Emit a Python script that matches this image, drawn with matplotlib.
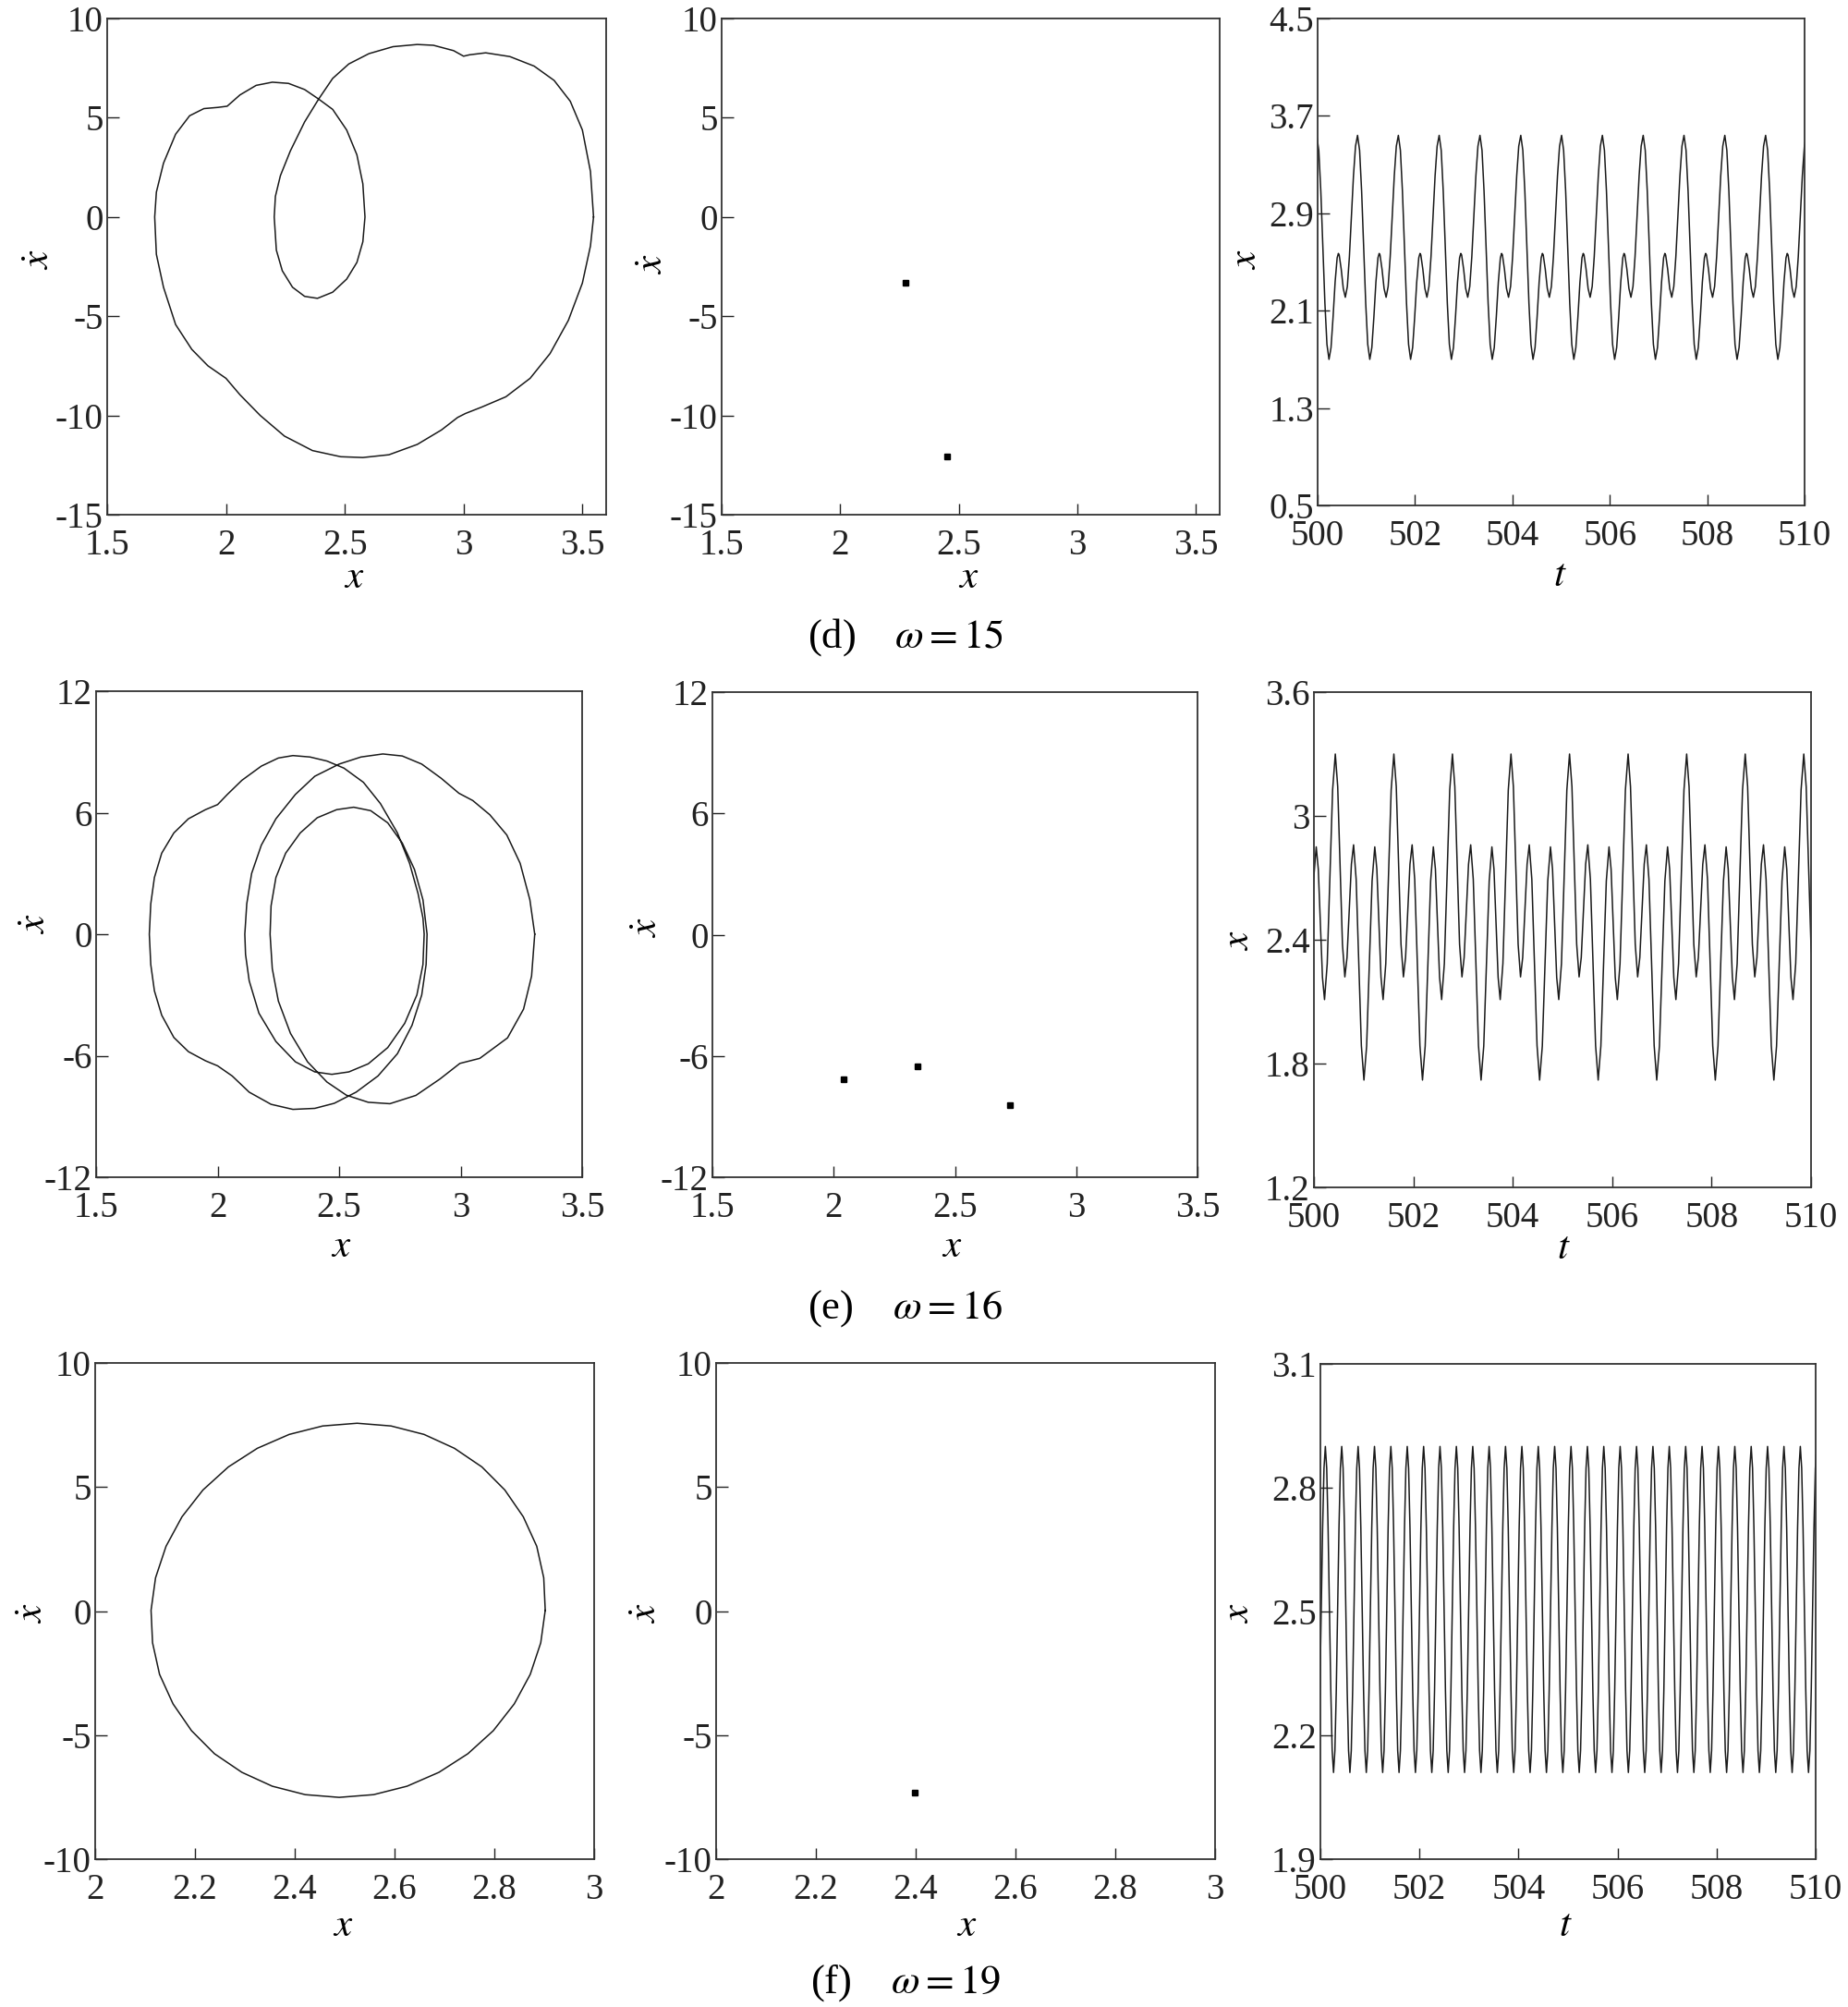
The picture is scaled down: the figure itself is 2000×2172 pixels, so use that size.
import numpy as np
import matplotlib
matplotlib.use("Agg")
import matplotlib.pyplot as plt
from matplotlib.ticker import FixedLocator, FuncFormatter

plt.rcParams['font.family'] = ['Liberation Serif', 'DejaVu Serif']
plt.rcParams['mathtext.fontset'] = 'stix'
plt.rcParams['axes.unicode_minus'] = False

# ------------------------------------------------------------------ data
# (d) omega = 15 : phase portrait (x, xdot) read along the closed orbit
d_orbit_x = [3.547, 3.534, 3.500, 3.449, 3.381, 3.297, 3.195, 3.093, 3.025, 3.000,
             2.958, 2.873, 2.805, 2.703, 2.602, 2.517, 2.449, 2.390, 2.331, 2.271,
             2.229, 2.208, 2.203, 2.212, 2.237, 2.280, 2.331, 2.385, 2.449, 2.508,
             2.551, 2.576, 2.585, 2.576, 2.551, 2.508, 2.449, 2.390, 2.331, 2.263,
             2.195, 2.127, 2.059, 2.005, 1.966, 1.907, 1.847, 1.788, 1.737, 1.707,
             1.700, 1.707, 1.737, 1.788, 1.856, 1.924, 2.000, 2.059, 2.144, 2.246,
             2.364, 2.483, 2.576, 2.686, 2.805, 2.907, 2.975, 3.008, 3.076, 3.178,
             3.280, 3.364, 3.441, 3.500, 3.534, 3.547]
d_orbit_v = [0.00, 2.29, 4.38, 5.83, 6.88, 7.60, 8.08, 8.27, 8.17, 8.10,
             8.38, 8.65, 8.69, 8.58, 8.23, 7.71, 6.98, 5.94, 4.79, 3.33,
             2.08, 1.04, 0.00, -1.67, -2.71, -3.54, -4.00, -4.10, -3.79, -3.13,
             -2.29, -1.25, 0.00, 1.67, 3.13, 4.38, 5.42, 5.94, 6.42, 6.73,
             6.79, 6.63, 6.15, 5.58, 5.52, 5.46, 5.10, 4.17, 2.71, 1.25,
             0.00, -1.88, -3.54, -5.42, -6.67, -7.50, -8.13, -8.96, -10.00, -11.04,
             -11.77, -12.08, -12.12, -11.98, -11.46, -10.73, -10.10, -9.90, -9.58, -9.06,
             -8.13, -6.88, -5.21, -3.33, -1.46, 0.00]
d_poincare_x = [2.275, 2.451]
d_poincare_v = [-3.32, -12.07]
# one period of x(t), phase measured from the large peak
d_phase = [0.00, 0.05, 0.10, 0.15, 0.20, 0.25, 0.30, 0.35, 0.40, 0.45, 0.50,
           0.53, 0.55, 0.60, 0.65, 0.70, 0.75, 0.80, 0.85, 0.90, 0.95]
d_wave = [3.540, 3.417, 3.080, 2.620, 2.160, 1.823, 1.700, 1.797, 2.047, 2.335, 2.534,
          2.570, 2.558, 2.440, 2.282, 2.210, 2.299, 2.543, 2.875, 3.208, 3.451]
d_period = 0.838
d_first_peak = 500.82

# (e) omega = 16
e_orbit_x = [3.305, 3.292, 3.259, 3.193, 3.079, 2.997, 2.915, 2.816, 2.709, 2.620,
             2.530, 2.450, 2.370, 2.300, 2.250, 2.225, 2.216,
             2.220, 2.240, 2.280, 2.340, 2.410, 2.490, 2.560, 2.630, 2.700, 2.760,
             2.810, 2.845, 2.862,
             2.858, 2.840, 2.800, 2.740, 2.660, 2.570, 2.480, 2.400, 2.310, 2.220,
             2.130, 2.060, 2.000, 1.950, 1.880, 1.820, 1.770, 1.740, 1.725, 1.719,
             1.725, 1.740, 1.770, 1.820, 1.880, 1.950, 2.000, 2.040, 2.100, 2.180,
             2.250, 2.310, 2.380, 2.450, 2.520, 2.600, 2.670, 2.740, 2.790, 2.825,
             2.845, 2.850,
             2.845, 2.820, 2.770, 2.700, 2.620, 2.540, 2.470, 2.400, 2.320, 2.240,
             2.170, 2.130, 2.115, 2.112,
             2.120, 2.140, 2.180, 2.240, 2.320, 2.400, 2.500, 2.590, 2.680, 2.760,
             2.840, 2.920, 2.993, 3.050, 3.120, 3.190, 3.245, 3.285, 3.305]
e_orbit_v = [0.00, -2.07, -3.70, -5.12, -6.13, -6.38, -7.15, -7.96, -8.37, -8.30,
             -7.95, -7.30, -6.30, -4.90, -3.30, -1.70, 0.00,
             1.40, 2.80, 4.00, 5.00, 5.75, 6.15, 6.27, 6.10, 5.50, 4.50,
             3.20, 1.70, 0.00,
             -1.50, -3.00, -4.50, -5.90, -7.00, -7.80, -8.35, -8.60, -8.65, -8.40,
             -7.80, -7.00, -6.50, -6.25, -5.80, -5.10, -4.00, -2.80, -1.50, 0.00,
             1.50, 2.80, 4.00, 5.00, 5.70, 6.15, 6.40, 6.90, 7.60, 8.30,
             8.70, 8.82, 8.75, 8.55, 8.20, 7.50, 6.45, 5.00, 3.50, 2.00,
             0.80, 0.00,
             -1.50, -3.00, -4.40, -5.60, -6.40, -6.80, -6.92, -6.80, -6.30, -5.30,
             -3.90, -2.30, -1.00, 0.00,
             1.50, 3.00, 4.40, 5.70, 6.90, 7.80, 8.40, 8.75, 8.90, 8.80,
             8.40, 7.70, 6.96, 6.60, 5.90, 4.90, 3.50, 1.70, 0.00]
e_poincare_x = [2.041, 2.344, 2.726]
e_poincare_v = [-7.16, -6.51, -8.42]
e_phase = [0.000, 0.041, 0.0815, 0.122, 0.163, 0.200, 0.2375, 0.275, 0.312, 0.356,
           0.4005, 0.445, 0.489, 0.535, 0.5815, 0.628, 0.674, 0.7095, 0.745, 0.7805,
           0.816, 0.862, 0.908, 0.954]
e_wave = [3.300, 3.142, 2.760, 2.378, 2.220, 2.314, 2.540, 2.766, 2.860, 2.693,
          2.290, 1.887, 1.720, 1.885, 2.285, 2.685, 2.850, 2.742, 2.480, 2.218,
          2.110, 2.284, 2.705, 3.126]
e_period = 1.178
e_first_peak = 500.43

# (f) omega = 19
f_orbit_x = [2.902, 2.899, 2.885, 2.858, 2.821, 2.775, 2.720, 2.659, 2.593, 2.525,
             2.456, 2.389, 2.325, 2.267, 2.216, 2.174, 2.142, 2.121, 2.112, 2.115,
             2.129, 2.156, 2.193, 2.239, 2.294, 2.355, 2.421, 2.489, 2.558, 2.625,
             2.689, 2.747, 2.798, 2.840, 2.872, 2.893, 2.902]
f_orbit_v = [0.03, 1.34, 2.61, 3.80, 4.88, 5.81, 6.56, 7.12, 7.46, 7.57,
             7.46, 7.12, 6.56, 5.81, 4.88, 3.80, 2.61, 1.34, 0.03, -1.28,
             -2.55, -3.74, -4.82, -5.75, -6.50, -7.06, -7.40, -7.51, -7.40, -7.06,
             -6.50, -5.75, -4.82, -3.74, -2.55, -1.28, 0.03]
f_poincare_x = [2.398]
f_poincare_v = [-7.33]
f_phase = [0.0, 0.0833, 0.1667, 0.25, 0.3333, 0.4167, 0.5, 0.5833, 0.6667, 0.75,
           0.8333, 0.9167]
f_wave = [2.900, 2.847, 2.703, 2.505, 2.308, 2.163, 2.110, 2.163, 2.308, 2.505,
          2.703, 2.847]
f_period = 0.3307
f_first_peak = 500.10

# axis ticks
d_xticks = [1.5, 2, 2.5, 3, 3.5]
d_vticks = [-15, -10, -5, 0, 5, 10]
d_xtticks = [0.5, 1.3, 2.1, 2.9, 3.7, 4.5]
e_xticks = [1.5, 2, 2.5, 3, 3.5]
e_vticks = [-12, -6, 0, 6, 12]
e_xtticks = [1.2, 1.8, 2.4, 3, 3.6]
f_xticks = [2, 2.2, 2.4, 2.6, 2.8, 3]
f_vticks = [-10, -5, 0, 5, 10]
f_xtticks = [1.9, 2.2, 2.5, 2.8, 3.1]
t_ticks = [500, 502, 504, 506, 508, 510]
captions = ["(d)", "(e)", "(f)"]
omegas = [15, 16, 19]

# ------------------------------------------------------------------ layout
W, H = 2000, 2172
fig = plt.figure(figsize=(W / 100, H / 100), dpi=100)

def add_ax(l, r, t, b):
    return fig.add_axes([l / W, 1 - b / H, (r - l) / W, (b - t) / H])

TICK_FS = 28
LAB_FS = 31
LINE = '#1a1a1a'

def style(ax, xlim, xt, ylim, yt, xlabel, ylabel, xlab_px, ylab_px, box):
    l, r, t, b = box
    ax.set_xlim(*xlim)
    ax.set_ylim(*ylim)
    ax.xaxis.set_major_locator(FixedLocator(xt))
    ax.yaxis.set_major_locator(FixedLocator(yt))
    fmt = FuncFormatter(lambda v, p: f"{v:g}")
    ax.xaxis.set_major_formatter(fmt)
    ax.yaxis.set_major_formatter(fmt)
    ax.tick_params(direction='in', length=9, width=1.0, labelsize=TICK_FS,
                   top=False, right=False, colors='#222222')
    ax.tick_params(axis='x', pad=11)
    ax.tick_params(axis='y', pad=3)
    for s in ax.spines.values():
        s.set_linewidth(1.3)
        s.set_color('#333333')
    ax.set_xlabel(xlabel, fontsize=LAB_FS, va='center', ha='center')
    ax.set_ylabel(ylabel, fontsize=LAB_FS, va='center', ha='center')
    ax.xaxis.set_label_coords((xlab_px[0] - l) / (r - l), (b - xlab_px[1]) / (b - t))
    ax.yaxis.set_label_coords((ylab_px[0] - l) / (r - l), (b - ylab_px[1]) / (b - t))

def periodic_series(phase, wave, period, first_peak, t0=500.0, t1=510.0):
    ph = np.asarray(phase)
    w = np.asarray(wave)
    k0 = int(np.floor((t0 - first_peak) / period)) - 1
    k1 = int(np.ceil((t1 - first_peak) / period)) + 1
    ts = np.concatenate([first_peak + (k + ph) * period for k in range(k0, k1)])
    xs = np.tile(w, k1 - k0)
    return ts, xs

rows = [
    dict(ox=d_orbit_x, ov=d_orbit_v, px=d_poincare_x, pv=d_poincare_v,
         ph=d_phase, wv=d_wave, T=d_period, t0=d_first_peak,
         xlim=(1.5, 3.6), xt=d_xticks, vlim=(-15, 10), vt=d_vticks,
         tlim=(0.5, 4.5), tt=d_xtticks,
         boxes=[(116, 656, 20, 557), (781, 1320, 20, 557), (1426, 1953, 20, 547)],
         xl=[(383, 626), (1048, 626), (1688, 624)],
         yl=[(43, 281), (707, 286), (1349, 281)],
         cap=(980, 690)),
    dict(ox=e_orbit_x, ov=e_orbit_v, px=e_poincare_x, pv=e_poincare_v,
         ph=e_phase, wv=e_wave, T=e_period, t0=e_first_peak,
         xlim=(1.5, 3.5), xt=e_xticks, vlim=(-12, 12), vt=e_vticks,
         tlim=(1.2, 3.6), tt=e_xtticks,
         boxes=[(104, 630, 748, 1274), (771, 1296, 749, 1274), (1422, 1960, 749, 1285)],
         xl=[(369, 1350), (1030, 1350), (1692, 1352)],
         yl=[(39, 1000), (701, 1004), (1341, 1018)],
         cap=(980, 1416)),
    dict(ox=f_orbit_x, ov=f_orbit_v, px=f_poincare_x, pv=f_poincare_v,
         ph=f_phase, wv=f_wave, T=f_period, t0=f_first_peak,
         xlim=(2, 3), xt=f_xticks, vlim=(-10, 10), vt=f_vticks,
         tlim=(1.9, 3.1), tt=f_xtticks,
         boxes=[(103, 643, 1475, 2012), (775, 1315, 1475, 2012), (1429, 1965, 1476, 2012)],
         xl=[(371, 2085), (1046, 2085), (1694, 2085)],
         yl=[(36, 1746), (700, 1746), (1341, 1746)],
         cap=(980, 2146)),
]

for i, rw in enumerate(rows):
    b0, b1, b2 = rw['boxes']
    ax0 = add_ax(*b0)
    ax0.plot(rw['ox'], rw['ov'], color=LINE, lw=1.1)
    style(ax0, rw['xlim'], rw['xt'], rw['vlim'], rw['vt'], r'$x$', r'$\dot{x}$',
          rw['xl'][0], rw['yl'][0], b0)

    ax1 = add_ax(*b1)
    ax1.plot(rw['px'], rw['pv'], linestyle='none', marker='s', markersize=3.8,
             color='black')
    style(ax1, rw['xlim'], rw['xt'], rw['vlim'], rw['vt'], r'$x$', r'$\dot{x}$',
          rw['xl'][1], rw['yl'][1], b1)

    ax2 = add_ax(*b2)
    ts, xs = periodic_series(rw['ph'], rw['wv'], rw['T'], rw['t0'])
    ax2.plot(ts, xs, color=LINE, lw=1.1)
    style(ax2, (500, 510), t_ticks, rw['tlim'], rw['tt'], r'$t$', r'$x$',
          rw['xl'][2], rw['yl'][2], b2)

    cx, cy = rw['cap']
    fig.text(cx / W, 1 - cy / H, captions[i] + r"$\quad\ \omega = %d$" % omegas[i],
             fontsize=32, ha='center', va='center')

fig.savefig("out.png", dpi=100, facecolor='white')
